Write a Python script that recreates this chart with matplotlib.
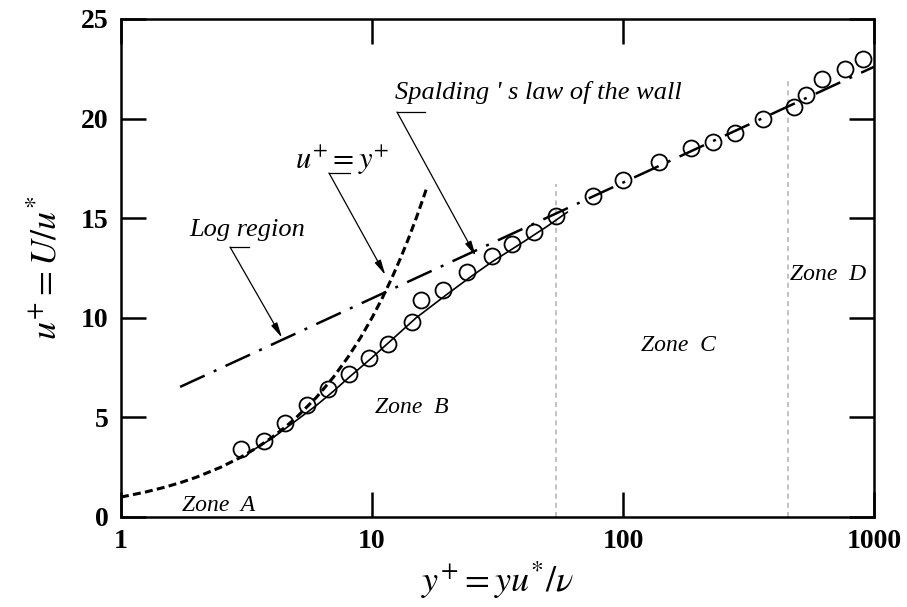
import matplotlib.pyplot as plt
import numpy as np

plt.rcParams['font.family'] = ['Liberation Serif', 'DejaVu Serif']
plt.rcParams['mathtext.fontset'] = 'stix'

# measured velocity profile (y+, u+)
y_meas = [3.0, 3.7, 4.5, 5.5, 6.7, 8.1, 9.7, 11.6, 14.4, 15.7, 19.2, 23.9,
          30.1, 36.1, 44.2, 54.1, 75.9, 100, 139, 187, 228, 279, 361, 480,
          535, 620, 766, 900]
u_meas = [3.4, 3.8, 4.7, 5.6, 6.4, 7.2, 8.0, 8.7, 9.8, 10.9, 11.4, 12.3,
          13.1, 13.7, 14.3, 15.1, 16.1, 16.9, 17.8, 18.5, 18.8, 19.3, 20.0,
          20.6, 21.2, 22.0, 22.5, 23.0]

# viscous sublayer u+ = y+
y_visc = [1, 1.25, 1.5, 1.75, 2, 2.5, 3, 3.5, 4, 4.5, 5, 6, 7, 8, 9, 10,
          11, 12, 13, 14, 15, 16, 16.6]
u_visc = [1, 1.25, 1.5, 1.75, 2, 2.5, 3, 3.5, 4, 4.5, 5, 6, 7, 8, 9, 10,
          11, 12, 13, 14, 15, 16, 16.6]

# Spalding's law of the wall
y_spal = [3.3, 4, 5, 6, 7, 8, 10, 12, 15, 20, 25, 30, 40, 50, 60]
u_spal = [3.3, 3.95, 4.85, 5.6, 6.3, 6.95, 8.0, 8.9, 10.0, 11.2, 12.1, 12.8,
          13.8, 14.6, 15.3]

# log region (straight on semilog axes)
y_log = [1.72, 1000]
u_log = [6.53, 22.6]

# zone boundaries
zone_edges = [54, 455]
zone_tops = [16.7, 22.1]


def main():
    fig = plt.figure(figsize=(9.07, 6.07), dpi=100)
    ax = fig.add_axes([0.1334, 0.1483, 0.8302, 0.8204])

    for xe, top in zip(zone_edges, zone_tops):
        ax.plot([xe, xe], [0, top], color='#b8b8b8', lw=1.2, dashes=(3, 2.5))

    ax.plot(y_visc, u_visc, color='black', lw=2.2, dashes=(2.6, 1.4))
    ax.plot(y_log, u_log, color='black', lw=1.8, dashes=(10.8, 4, 1.2, 4))
    ax.plot(y_spal, u_spal, color='black', lw=1.2)
    ax.plot(y_meas, u_meas, 'o', ms=11.5, mfc='none', mec='black', mew=1.3)

    ax.set_xscale('log')
    ax.set_xlim(1, 1000)
    ax.set_ylim(0, 25)

    ax.set_xticks([1, 10, 100, 1000])
    ax.set_xticklabels(['1', '10', '100', '1000'])
    ax.set_yticks([0, 5, 10, 15, 20, 25])
    ax.minorticks_off()
    ax.tick_params(direction='in', length=18, width=1.8, top=True, right=True,
                   labelsize=20, pad=9)
    for lbl in ax.get_xticklabels() + ax.get_yticklabels():
        lbl.set_fontweight('bold')
    for sp in ax.spines.values():
        sp.set_linewidth(1.8)

    ax.set_xlabel(r'$y^{+}=yu^{*}/\nu$', fontsize=26, labelpad=4)
    ax.set_ylabel(r'$u^{+}=U/u^{*}$', fontsize=26, labelpad=12)

    # zone names
    zkw = dict(fontsize=17, style='italic', ha='center', va='center')
    ax.text(2.45, 0.6, 'Zone  A', **zkw)
    ax.text(14.4, 5.5, 'Zone  B', **zkw)
    ax.text(167, 8.6, 'Zone  C', **zkw)
    ax.text(656, 12.15, 'Zone  D', **zkw)

    # callouts: underline under the label, then a leader to the curve
    arrow = dict(arrowstyle='-|>,head_length=0.9,head_width=0.2', lw=0.9,
                 color='black', shrinkA=0, shrinkB=0)
    ax.text(3.18, 14.4, 'Log region', fontsize=19, style='italic',
            ha='center', va='center')
    ax.plot([2.72, 3.23], [13.55, 13.55], color='black', lw=0.9)
    ax.annotate('', xy=(4.38, 9.0), xytext=(2.72, 13.55), arrowprops=arrow)

    ax.text(7.6, 17.9, r'$u^{+}=y^{+}$', fontsize=22, ha='center', va='center')
    ax.plot([6.74, 8.17], [17.27, 17.27], color='black', lw=0.9)
    ax.annotate('', xy=(11.3, 12.15), xytext=(6.74, 17.27), arrowprops=arrow)

    ax.text(12.35, 21.3, "Spalding ' s law of the wall", fontsize=19,
            style='italic', ha='left', va='center')
    ax.plot([12.58, 16.3], [20.33, 20.33], color='black', lw=0.9)
    ax.annotate('', xy=(25.9, 13.1), xytext=(12.58, 20.33), arrowprops=arrow)

    plt.savefig('out.png', dpi=100)


if __name__ == "__main__":
    main()
